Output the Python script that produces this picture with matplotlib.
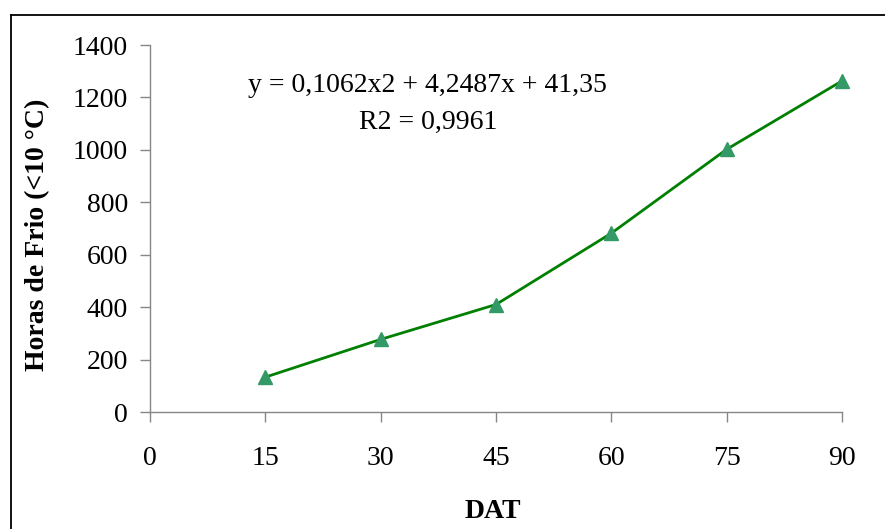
import matplotlib
matplotlib.use('Agg')
import matplotlib.pyplot as plt
from matplotlib.lines import Line2D

plt.rcParams['font.family'] = ['Liberation Serif', 'DejaVu Serif']

dat = [15, 30, 45, 60, 75, 90]
horas = [133, 277, 410, 682, 1002, 1263]
xticks = [0, 15, 30, 45, 60, 75, 90]
yticks = [0, 200, 400, 600, 800, 1000, 1200, 1400]

fs = 20

fig = plt.figure(figsize=(8.85, 5.29), dpi=100)
ax = fig.add_axes([150/885, 1 - 412/529, (842-150)/885, (412-45)/529])

ax.plot(dat, horas, color='#008000', lw=2.0, zorder=2, clip_on=False)
ax.plot(dat, horas, ls='none', marker='^', ms=10, color='#339966', zorder=3, clip_on=False)

ax.set_xlim(0, 90)
ax.set_ylim(0, 1400)
ax.set_xticks(xticks)
ax.set_yticks(yticks)

for s in ['top', 'right']:
    ax.spines[s].set_visible(False)
for s in ['left', 'bottom']:
    ax.spines[s].set_color('#868686')
    ax.spines[s].set_linewidth(1.0)

ax.tick_params(axis='both', colors='#868686', length=7, width=1.0, labelcolor='black', labelsize=fs)
ax.tick_params(axis='x', pad=17.5)
ax.tick_params(axis='y', pad=9)

fig.text(38/885, 1 - 235/529, 'Horas de Frio (<10 °C)', rotation=90, ha='center', va='center',
         fontsize=fs, fontweight='bold')
fig.text(493/885, 1 - 512/529, 'DAT', ha='center', va='center', fontsize=fs, fontweight='bold')

fig.text(427/885, 1 - 85/529, 'y = 0,1062x2 + 4,2487x + 41,35', ha='center', va='center', fontsize=fs)
fig.text(428/885, 1 - 122/529, 'R2 = 0,9961', ha='center', va='center', fontsize=fs)

# frame around the chart
fig.add_artist(Line2D([11/885, 1.0], [1 - 15/529, 1 - 15/529], color='black', lw=1.3,
                      transform=fig.transFigure))
fig.add_artist(Line2D([11/885, 11/885], [1 - 15/529, 0.0], color='black', lw=1.3,
                      transform=fig.transFigure))

fig.savefig('out.png', dpi=100)
